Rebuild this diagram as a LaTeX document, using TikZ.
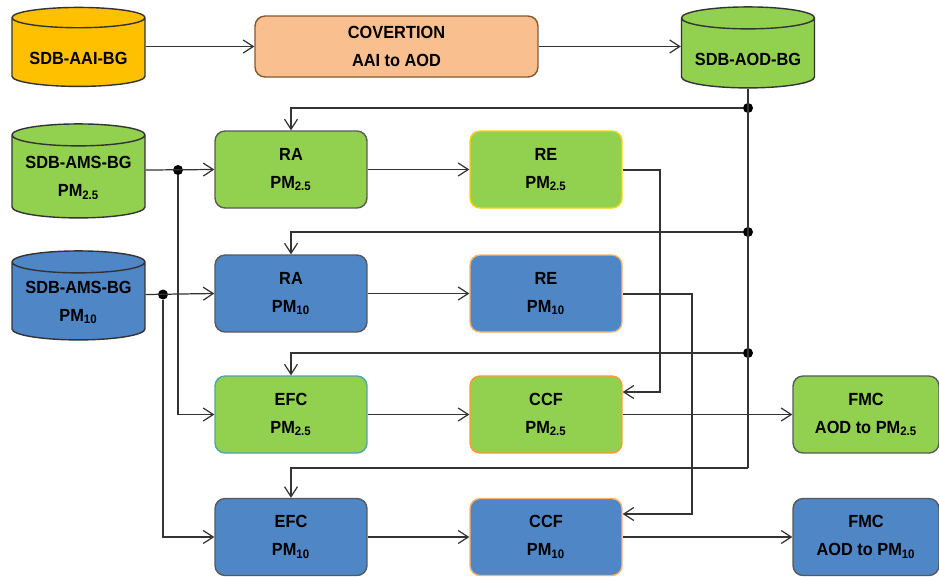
\documentclass[tikz,border=0pt]{standalone}
\usepackage{fontspec}
\setmainfont{Liberation Sans}[FakeStretch=0.93]
\usetikzlibrary{shapes.geometric,arrows.meta}

\definecolor{dbyellow}{HTML}{FFC000}
\definecolor{convpeach}{HTML}{F9BF8F}
\definecolor{pmgreen}{HTML}{92D050}
\definecolor{pmblue}{HTML}{4F86C6}
\definecolor{wire}{HTML}{333333}

\tikzset{
  box/.style={draw=#1, rounded corners=0.2cm, align=center, line width=0.8pt,
    font=\bfseries\fontsize{10}{16}\selectfont,
    minimum width=3.04cm, minimum height=1.54cm, inner sep=1pt},
  box/.default=gray!70!black,
  db/.style={draw=black!80, cylinder, shape border rotate=90, shape aspect=0.2,
    align=center, line width=0.8pt, font=\bfseries\fontsize{10}{16}\selectfont,
    minimum width=2.66cm, inner sep=1pt,
    execute at begin node={\rule{0pt}{13pt}}},
  link/.style={draw=wire, line width=0.7pt, -{Straight Barb[length=0.2cm,width=0.26cm]}},
  wireline/.style={draw=wire, line width=0.7pt},
  joint/.style={circle, fill=black, inner sep=0pt, minimum size=0.2cm}
}

\begin{document}
\begin{tikzpicture}[x=0.02cm, y=-0.02cm]
  \useasboundingbox (0,0) rectangle (939,576);

  \node[db, fill=dbyellow, minimum height=1.58cm] (aai) at (78.5,53.5) {SDB-AAI-BG};
  \node[box=brown!70!black, fill=convpeach, minimum width=5.66cm, minimum height=1.22cm]
    (conv) at (396.5,46.5) {COVERTION\\AAI to AOD};
  \node[db, fill=pmgreen, minimum height=1.62cm] (aod) at (748,54.5) {SDB-AOD-BG};

  \node[db, fill=pmgreen, minimum height=1.88cm] (ams25) at (78.5,178) {SDB-AMS-BG\\PM\textsubscript{2.5}};
  \node[db, fill=pmblue, minimum height=1.78cm] (ams10) at (78.5,302.5) {SDB-AMS-BG\\PM\textsubscript{10}};

  \node[box, fill=pmgreen] (ra25) at (291,169.5) {RA\\PM\textsubscript{2.5}};
  \node[box=yellow!70!orange, fill=pmgreen] (re25) at (546,169.5) {RE\\PM\textsubscript{2.5}};
  \node[box, fill=pmblue] (ra10) at (291,293.5) {RA\\PM\textsubscript{10}};
  \node[box=orange!60, fill=pmblue] (re10) at (546,293.5) {RE\\PM\textsubscript{10}};
  \node[box=teal!70, fill=pmgreen] (efc25) at (291,414.5) {EFC\\PM\textsubscript{2.5}};
  \node[box=orange!80, fill=pmgreen] (ccf25) at (546,414.5) {CCF\\PM\textsubscript{2.5}};
  \node[box, fill=pmgreen, minimum width=2.92cm] (fmc25) at (866,414.5) {FMC\\AOD to PM\textsubscript{2.5}};
  \node[box, fill=pmblue] (efc10) at (291,537) {EFC\\PM\textsubscript{10}};
  \node[box=orange!60, fill=pmblue] (ccf10) at (546,537) {CCF\\PM\textsubscript{10}};
  \node[box, fill=pmblue, minimum width=2.92cm] (fmc10) at (866,537) {FMC\\AOD to PM\textsubscript{10}};

  \node[joint] (s25) at (178,170) {};
  \node[joint] (s10) at (163,294.5) {};
  \node[joint] (j1) at (748,108) {};
  \node[joint] (j2) at (748,232) {};
  \node[joint] (j3) at (748,353) {};
  \coordinate (j4) at (748,468);
  \coordinate (c25) at (660,170);
  \coordinate (c10) at (692,294);

  \draw[link] (conv.west -| aai.east) -- (conv.west);
  \draw[link] (conv.east) -- (conv.east -| aod.west);

  \draw[wireline] (aod.south) -- (j4);
  \draw[link] (j1) -- (ra25.north |- j1) -- (ra25.north);
  \draw[link] (j2) -- (ra10.north |- j2) -- (ra10.north);
  \draw[link] (j3) -- (efc25.north |- j3) -- (efc25.north);
  \draw[link] (j4) -- (efc10.north |- j4) -- (efc10.north);

  \draw[link] (s25 -| ams25.east) -- (ra25.west);
  \draw[link] (s25) |- (efc25.west);
  \draw[link] (s10 -| ams10.east) -- (ra10.west);
  \draw[link] (s10) |- (efc10.west);

  \draw[link] (ra25) -- (re25);
  \draw[link] (ra10) -- (re10);
  \draw[link] (efc25) -- (ccf25);
  \draw[link] (efc10) -- (ccf10);
  \draw[link] (ccf25) -- (fmc25);
  \draw[link] (ccf10) -- (fmc10);

  \draw[link] (re25.east |- c25) -- (c25) |- ([yshift=0.45cm]ccf25.east);
  \draw[link] (re10.east |- c10) -- (c10) |- ([yshift=0.46cm]ccf10.east);
\end{tikzpicture}
\end{document}
